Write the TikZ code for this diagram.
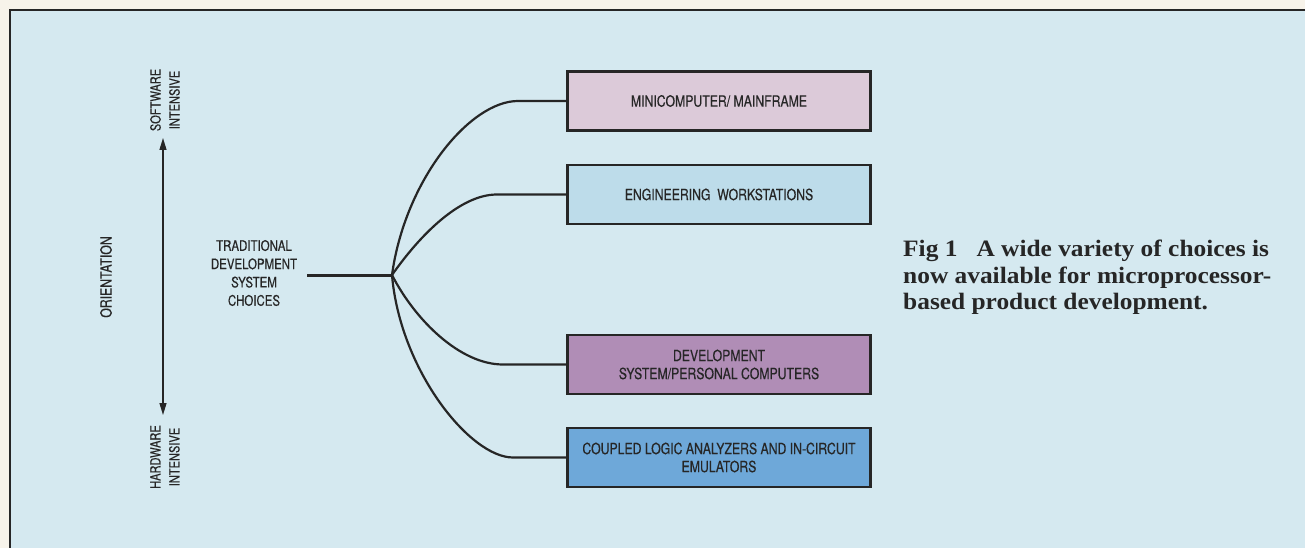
\documentclass[tikz,border=0pt]{standalone}
\usepackage{fontspec}
\setmainfont{Liberation Serif}
\newfontfamily\cond[FakeStretch=0.79,FakeBold=0.4]{TeX Gyre Heros}
\newfontfamily\capfont[FakeStretch=1.08]{Liberation Serif}
\usetikzlibrary{arrows.meta}
\definecolor{paper}{HTML}{F7F3EA}
\definecolor{bg}{HTML}{D5E9F0}
\definecolor{ink}{HTML}{262626}
\definecolor{boxa}{HTML}{DCCAD9}
\definecolor{boxb}{HTML}{BDDCEA}
\definecolor{boxc}{HTML}{B08DB6}
\definecolor{boxd}{HTML}{6EA8D9}
\tikzset{
  choice/.style={draw=ink, line width=2.6pt, minimum width=303pt, minimum height=59pt,
    align=center, font=\cond\fontsize{15.5}{18}\selectfont, text=ink, inner sep=0pt},
  link/.style={draw=ink, line width=2.2pt},
  axislabel/.style={font=\cond\fontsize{14}{19}\selectfont, text=ink, align=center, rotate=90}
}
\begin{document}
\begin{tikzpicture}[x=1pt,y=-1pt]
\useasboundingbox (0,0) rectangle (1305,548);
\fill[paper] (0,0) rectangle (1305,548);
\fill[bg] (10,10) rectangle (1305,548);
\draw[ink, line width=2.6pt] (10,548) -- (10,10) -- (1305,10);

% axis
\node[axislabel] (soft) at (165,100) {SOFTWARE\\INTENSIVE};
\node[axislabel] (hard) at (165,457) {HARDWARE\\INTENSIVE};
\node[axislabel, font=\cond\fontsize{15.5}{18}\selectfont] (orient) at (106,277) {ORIENTATION};
\coordinate (atop) at (163,138);
\coordinate (abot) at (163,415);
\draw[ink, line width=1.3pt, {Triangle[width=7pt,length=12pt]}-{Triangle[width=7pt,length=12pt]}]
  (atop) -- (abot);

% root
\node[font=\cond\fontsize{14.5}{18.3}\selectfont, text=ink, align=center] (trad) at (254,273)
  {TRADITIONAL\\DEVELOPMENT\\SYSTEM\\CHOICES};
\coordinate (start) at (307,275);
\coordinate (branch) at (392,275);
\draw[link, line width=3pt] (start) -- (branch);

% boxes
\node[choice, fill=boxa] (b1) at (719,101) {MINICOMPUTER/ MAINFRAME};
\node[choice, fill=boxb] (b2) at (719,194.5) {ENGINEERING\ \ WORKSTATIONS};
\node[choice, fill=boxc] (b3) at (719,364.5) {DEVELOPMENT\\SYSTEM/PERSONAL COMPUTERS};
\node[choice, fill=boxd] (b4) at (719,457.5) {COUPLED LOGIC ANALYZERS AND IN-CIRCUIT\\EMULATORS};

% links
\draw[link] (branch) .. controls (405,180) and (470,101) .. (518,101) -- (b1.west);
\draw[link] (branch) .. controls (420,235) and (460,194.5) .. (497,194.5) -- (b2.west);
\draw[link] (branch) .. controls (415,320) and (460,364.5) .. (503,364.5) -- (b3.west);
\draw[link] (branch) .. controls (400,370) and (470,457.5) .. (513,457.5) -- (b4.west);

% caption
\node[anchor=north west, font=\capfont\bfseries\fontsize{23.5}{26.5}\selectfont, text=ink, align=left, inner sep=0pt]
  (cap) at (903,240) {Fig 1\ \ \ A wide variety of choices is\\now available for microprocessor-\\based product development.};
\end{tikzpicture}
\end{document}
